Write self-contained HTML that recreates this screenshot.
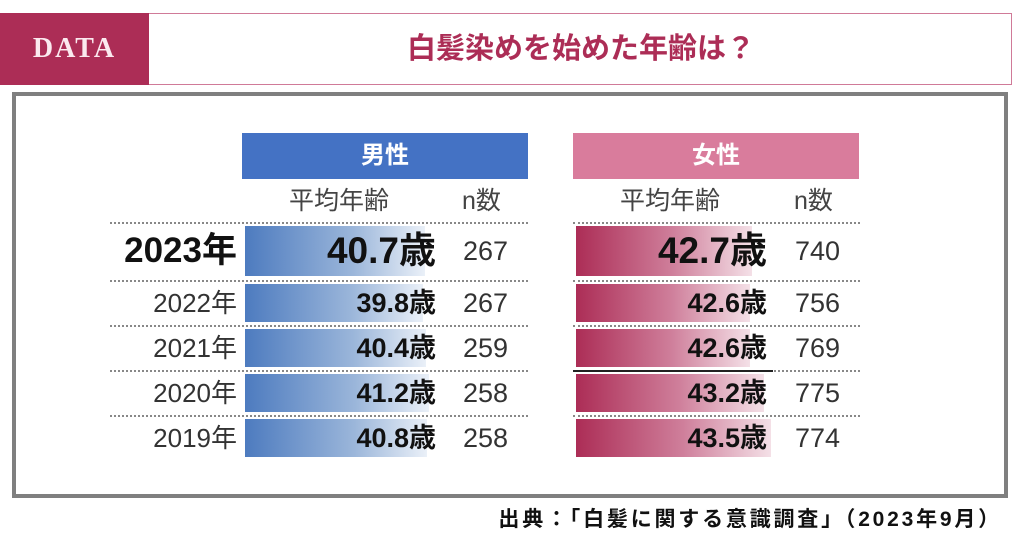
<!DOCTYPE html>
<html><head><meta charset="utf-8"><style>
*{margin:0;padding:0;box-sizing:border-box}
body{width:1024px;height:538px;background:#fff;position:relative;overflow:hidden;font-family:"Liberation Sans","Noto Sans CJK JP",sans-serif;color:#222}
.a{position:absolute;white-space:nowrap}
.hdr{left:0;top:13px;width:1012px;height:72px;border:1.5px solid #d07a98;border-left:none}
.data{left:0;top:13px;width:149px;height:72px;background:#ac2d56;color:#fbe9ef;font-family:"Liberation Serif",serif;font-weight:bold;font-size:28px;letter-spacing:2px;line-height:72px;text-align:center}
.title{left:150px;width:862px;top:13px;line-height:72px;text-align:center;font-size:29px;font-weight:bold;color:#ac2d56}
.box{left:12px;top:92px;width:996px;height:406px;border:4px solid #7f7f7f}
.gh{top:133px;height:46px;width:286px;color:#fff;font-size:24px;font-weight:bold;text-align:center;line-height:46px}
.sub{top:184px;font-size:25px;color:#444;line-height:34px}
.dl{height:0;border-top:2px dotted #888}
.bm{background:linear-gradient(90deg,#4d7bbf,#9bb6da 60%,#eaf0f8)}
.bf{background:linear-gradient(90deg,#ac2d56,#cf7f9b 55%,#f4e0e7)}
.yr{width:140px;text-align:right;font-size:26px;color:#333}
.v{text-align:right;font-weight:bold;font-size:27px;color:#111;width:200px}
.n{font-size:27px;color:#333}
.r0{top:226px;height:50px;line-height:50px}
.r1{top:284px;height:38px;line-height:38px}
.r2{top:329px;height:38px;line-height:38px}
.r3{top:374px;height:38px;line-height:38px}
.r4{top:419px;height:38px;line-height:38px}
</style></head><body>
<div class="a hdr"></div>
<div class="a data">DATA</div>
<div class="a title">白髪染めを始めた年齢は？</div>
<div class="a box"></div>
<div class="a gh" style="left:242px;background:#4472c4">男性</div>
<div class="a gh" style="left:573px;background:#d97c9c">女性</div>
<div class="a sub" style="left:289px">平均年齢</div>
<div class="a sub" style="left:462px">n数</div>
<div class="a sub" style="left:620px">平均年齢</div>
<div class="a sub" style="left:794px">n数</div>

<div class="a dl" style="left:110px;width:418px;top:222px"></div>
<div class="a dl" style="left:573px;width:287px;top:222px"></div>
<div class="a dl" style="left:110px;width:418px;top:280px"></div>
<div class="a dl" style="left:573px;width:287px;top:280px"></div>
<div class="a dl" style="left:110px;width:418px;top:325px"></div>
<div class="a dl" style="left:573px;width:287px;top:325px"></div>
<div class="a dl" style="left:110px;width:418px;top:370px"></div>
<div class="a dl" style="left:573px;width:287px;top:370px"></div>
<div class="a" style="left:573px;width:200px;top:370px;height:2px;background:#222"></div>
<div class="a dl" style="left:110px;width:418px;top:415px"></div>
<div class="a dl" style="left:573px;width:287px;top:415px"></div>

<div class="a bm r0" style="left:245px;width:180px"></div>
<div class="a bm r1" style="left:245px;width:178px"></div>
<div class="a bm r2" style="left:245px;width:181px"></div>
<div class="a bm r3" style="left:245px;width:184px"></div>
<div class="a bm r4" style="left:245px;width:182px"></div>
<div class="a bf r0" style="left:576px;width:176px"></div>
<div class="a bf r1" style="left:576px;width:174px"></div>
<div class="a bf r2" style="left:576px;width:174px"></div>
<div class="a bf r3" style="left:576px;width:188px"></div>
<div class="a bf r4" style="left:576px;width:195px"></div>

<div class="a yr r0" style="left:97px;font-size:35px;font-weight:bold;color:#111">2023年</div>
<div class="a yr r1" style="left:97px">2022年</div>
<div class="a yr r2" style="left:97px">2021年</div>
<div class="a yr r3" style="left:97px">2020年</div>
<div class="a yr r4" style="left:97px">2019年</div>

<div class="a v r0" style="left:236px;font-size:37px">40.7歳</div>
<div class="a v r1" style="left:236px">39.8歳</div>
<div class="a v r2" style="left:236px">40.4歳</div>
<div class="a v r3" style="left:236px">41.2歳</div>
<div class="a v r4" style="left:236px">40.8歳</div>
<div class="a n r0" style="left:463px">267</div>
<div class="a n r1" style="left:463px">267</div>
<div class="a n r2" style="left:463px">259</div>
<div class="a n r3" style="left:463px">258</div>
<div class="a n r4" style="left:463px">258</div>

<div class="a v r0" style="left:567px;font-size:37px">42.7歳</div>
<div class="a v r1" style="left:567px">42.6歳</div>
<div class="a v r2" style="left:567px">42.6歳</div>
<div class="a v r3" style="left:567px">43.2歳</div>
<div class="a v r4" style="left:567px">43.5歳</div>
<div class="a n r0" style="left:795px">740</div>
<div class="a n r1" style="left:795px">756</div>
<div class="a n r2" style="left:795px">769</div>
<div class="a n r3" style="left:795px">775</div>
<div class="a n r4" style="left:795px">774</div>

<div class="a" style="right:22px;top:505px;line-height:30px;font-size:21px;letter-spacing:2.8px;font-weight:bold;color:#111">出典：「白髪に関する意識調査」（2023年9月）</div>
</body></html>
